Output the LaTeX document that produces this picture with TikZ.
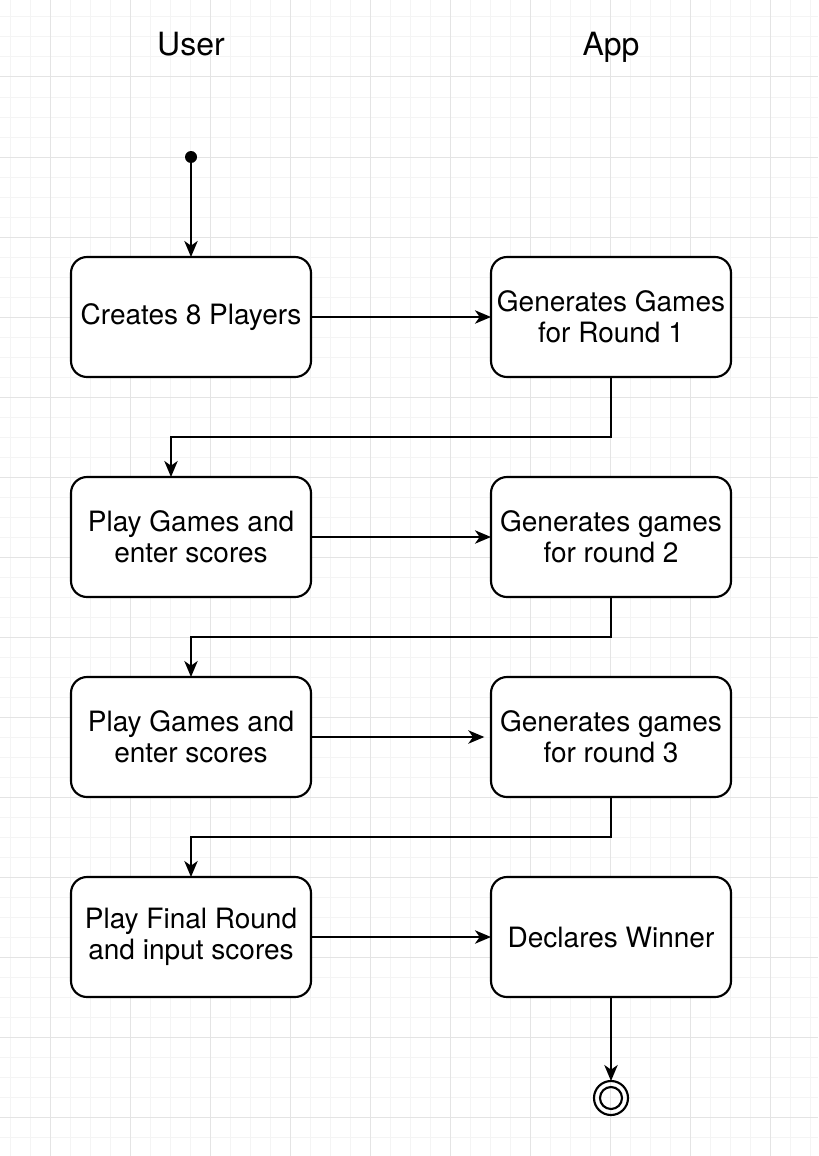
\documentclass[tikz,border=0pt]{standalone}
\usepackage{fontspec}
\setmainfont{TeX Gyre Heros}
\usetikzlibrary{arrows.meta,positioning}
\definecolor{gridminor}{HTML}{F4F4F4}
\definecolor{gridmajor}{HTML}{E4E4E4}

\begin{document}
\begin{tikzpicture}[
    x=0.75pt, y=-0.75pt,
    node distance=60pt and 135pt,
    act/.style={draw, line width=1.6pt, rounded corners=12pt, fill=white, minimum width=180pt, minimum height=90pt, align=center, inner sep=0pt, outer sep=0pt, font=\fontsize{21pt}{23.25pt}\selectfont},
    hdr/.style={anchor=base, font=\fontsize{24pt}{28pt}\selectfont},
    arr/.style={-{Stealth[length=12pt, width=10pt, inset=3.5pt]}, line width=1.6pt},
    startdot/.style={circle, fill=black, minimum size=9pt, inner sep=0pt, outer sep=0pt},
    enddot/.style={circle, draw, line width=1.6pt, minimum size=25.5pt, inner sep=0pt, outer sep=0pt}
  ]
    \useasboundingbox (0,0) rectangle (818,1156);
    % background grid
    \fill[white] (0,0) rectangle (818,1156);
    \foreach \x in {10,30,...,810} \draw[gridminor, line width=0.75pt] (\x,0) -- (\x,1156);
    \foreach \y in {17,37,...,1157} \draw[gridminor, line width=0.75pt] (0,\y) -- (818,\y);
    \foreach \x in {50,130,...,770} \draw[gridmajor, line width=0.75pt] (\x,0) -- (\x,1156);
    \foreach \y in {77,157,...,1117} \draw[gridmajor, line width=0.75pt] (0,\y) -- (818,\y);

    \node[hdr] (user) at (191,56) {User};
    \node[hdr] (app) at (611,56) {App};

    \node[startdot] (start) at (191,157) {};
    \node[act] (create) at (191,317) {Creates 8 Players};
    \node[act, right=of create] (gen1) {Generates Games\\for Round 1};
    \node[act, below=75pt of create] (play1) {Play Games and\\enter scores};
    \node[act, right=of play1] (gen2) {Generates games\\for round 2};
    \node[act, below=of play1] (play2) {Play Games and\\enter scores};
    \node[act, right=of play2] (gen3) {Generates games\\for round 3};
    \node[act, below=of play2] (final) {Play Final Round\\and input scores};
    \node[act, right=of final] (winner) {Declares Winner};
    \node[enddot, below=63pt of winner] (stop) {};
    \draw[line width=1.6pt] (stop.center) circle[radius=8.25pt];

    \draw[arr] (start) -- (create);
    \draw[arr] (create) -- (gen1);
    \draw[arr] (gen1.south) -- ++(0,60) -| ([xshift=-15pt]play1.north);
    \draw[arr] (play1) -- (gen2);
    \draw[arr] (gen2.south) -- ++(0,40) -| (play2.north);
    \draw[arr, shorten >=5pt] (play2) -- (gen3);
    \draw[arr] (gen3.south) -- ++(0,40) -| (final.north);
    \draw[arr] (final) -- (winner);
    \draw[arr] (winner) -- (stop);
  \end{tikzpicture}
\end{document}
